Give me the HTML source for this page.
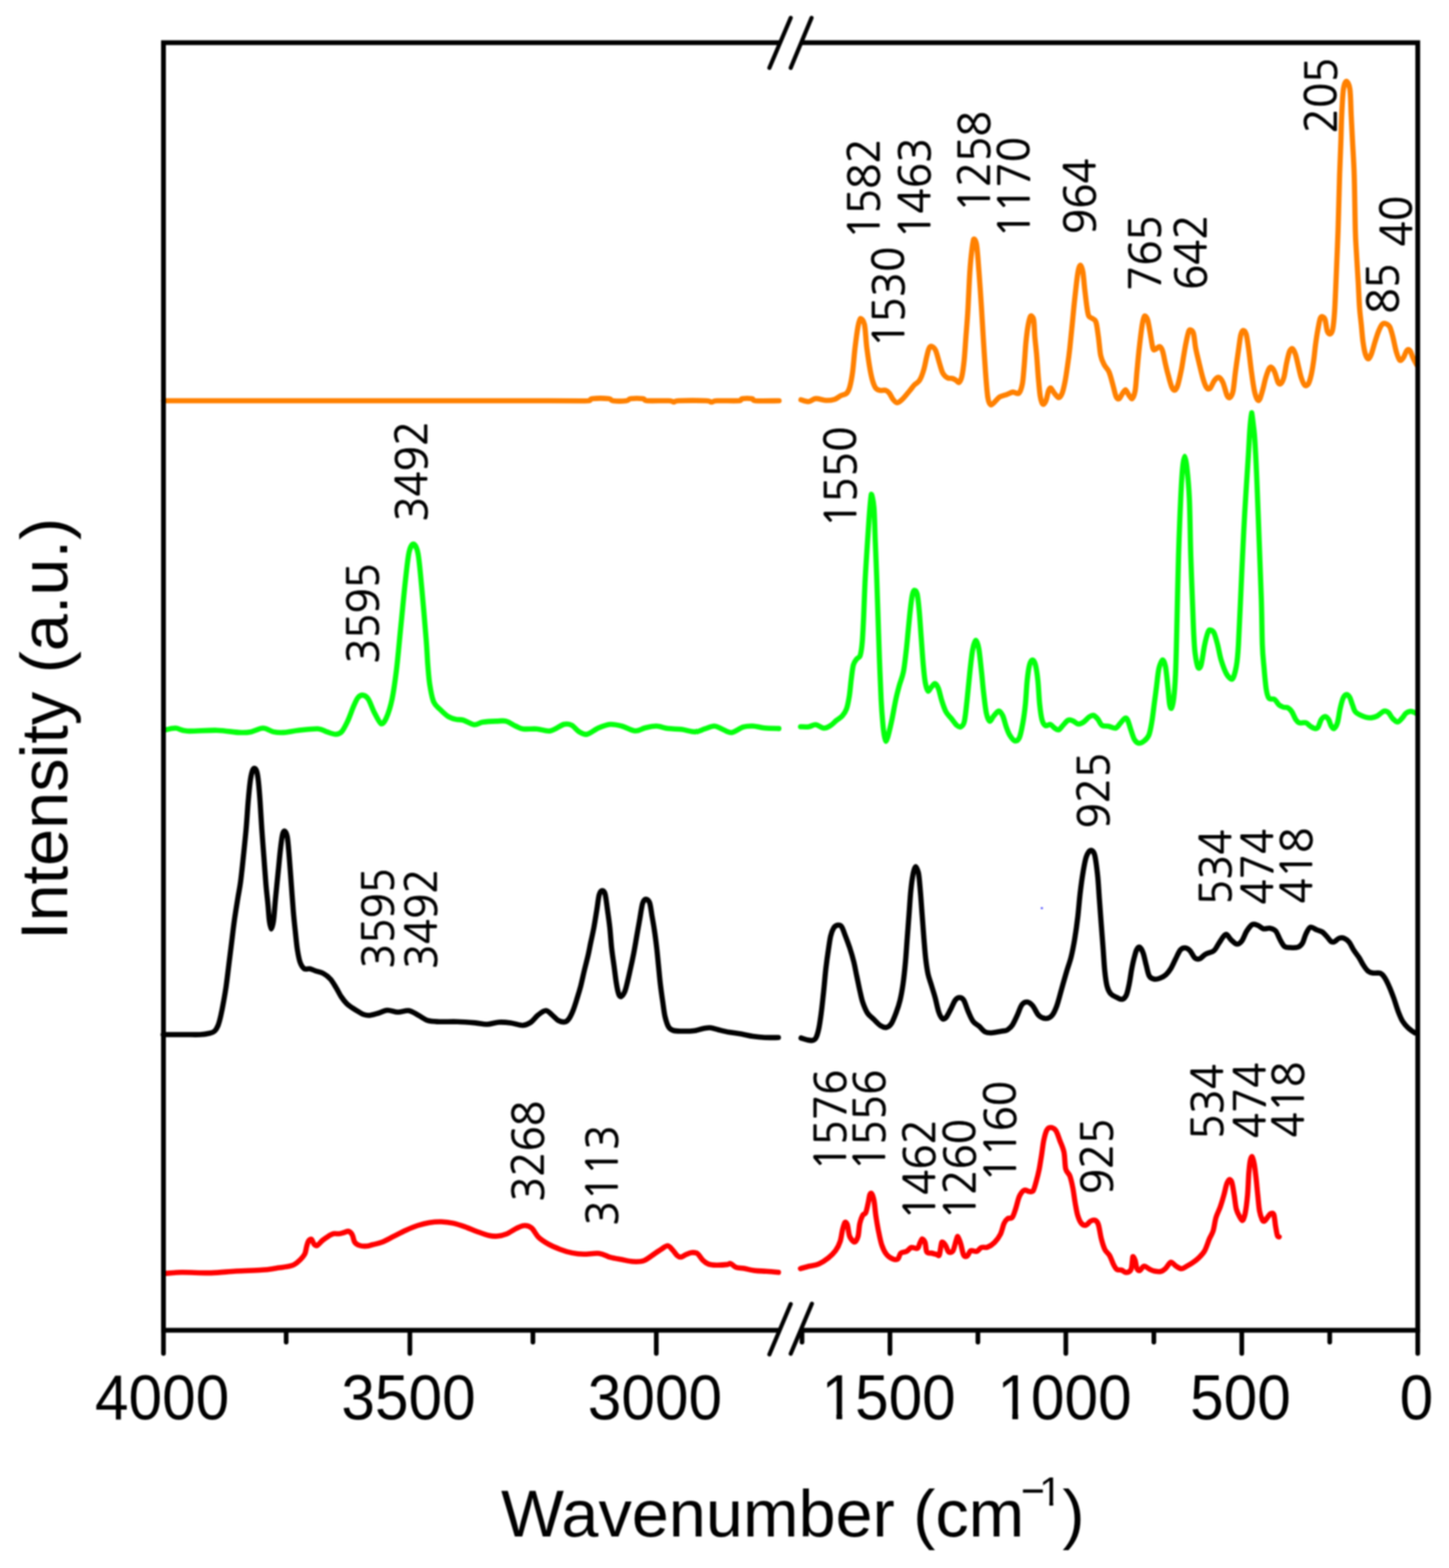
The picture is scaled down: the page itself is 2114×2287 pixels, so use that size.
<!DOCTYPE html>
<html><head><meta charset="utf-8"><title>Raman/IR spectra</title>
<style>html,body{margin:0;padding:0;background:#fff;overflow:hidden;}svg{display:block;filter:blur(0.8px);}</style></head><body>
<svg width="2114" height="2287" viewBox="0 0 2114 2287">
<rect width="2114" height="2287" fill="#fff"/>
<g fill="none" stroke-width="7.6" stroke-linejoin="round" stroke-linecap="round">
<path stroke="#ff8000" d="M238.5,584.5 C332.1,584.5 696.8,584.5 800,584.5 C858,584.5 847.3,585 858,584.5 C864,584 859,582 864,581.5 C869,581 883,581 888,581.5 C893,582 889.7,584 894,584.5 C898.3,585 909.7,585 914,584.5 C918.3,584 916,582 920,581.5 C924,581 934,581 938,581.5 C942,582 938,584 944,584.5 C950.3,585 969.5,584.2 976,584.5 C982.5,584.8 980.7,586.5 983,586.5 C985.3,586.5 983,584.8 990,584.5 C997.8,584.2 1022,584.2 1030,584.5 C1038,584.8 1035.3,586.5 1038,586.5 C1040.7,586.5 1039.3,584.8 1046,584.5 C1052.7,584.2 1071.8,585 1078,584.5 C1083,584 1079.8,582 1083,581.5 C1086.2,581 1093.8,581 1097,581.5 C1100.2,582 1097,584 1102,584.5 C1108.6,585 1130.8,584.5 1136.6,584.5"/>
<path stroke="#ff8000" d="M1168.6,583.1 C1170.5,583.5 1176.2,586 1179.8,585.7 C1183.4,585.4 1185.9,581.7 1190.2,581.4 C1194.5,581.1 1201.2,583.9 1205.8,584 C1210.4,584.1 1214.4,583.4 1217.9,582.3 C1221.4,581.1 1223.7,578.5 1226.6,577.1 C1229.5,575.7 1233,575.6 1235.2,573.6 C1237.4,571.6 1238.1,570.2 1239.6,565 C1241,559.8 1242.6,551.9 1243.9,542.4 C1245.2,532.9 1246.1,518.8 1247.4,507.8 C1248.7,496.8 1250.4,483.8 1251.7,476.6 C1253,469.4 1254.4,464.8 1255.2,464.5 C1256,464.2 1259.6,466 1261.2,473.2 C1262.8,480.4 1263.1,495.7 1264.7,507.8 C1266.3,519.9 1268.7,536.4 1270.7,545.9 C1272.7,555.4 1274.6,561 1276.8,564.9 C1279,568.8 1281.1,568.6 1283.7,569.3 C1286.3,570 1290.1,568.6 1292.4,569.3 C1294.7,570 1295.9,571.4 1297.6,573.6 C1299.3,575.8 1300.9,580 1302.8,582.3 C1304.7,584.6 1306.5,587.5 1308.8,587.5 C1311.1,587.5 1313.6,585.2 1316.6,582.3 C1319.6,579.4 1324.1,573.6 1327,570.1 C1329.9,566.6 1331.5,564.1 1333.9,561.5 C1336.4,558.9 1339.4,558.2 1341.7,554.5 C1344,550.8 1346.1,544.8 1347.8,539 C1349.5,533.2 1350.8,525.1 1352.1,519.9 C1353.4,514.7 1354.3,510.2 1355.6,507.8 C1356.9,505.4 1358.4,504.9 1359.9,505.5 C1361.4,506.1 1363.4,507.4 1365.1,511.3 C1366.8,515.1 1368.6,523.1 1370.3,528.6 C1372,534.1 1373.5,540.5 1375.5,544.2 C1377.5,548 1380.1,549.8 1382.4,551.1 C1384.7,552.4 1387.4,551.4 1389.4,552 C1391.4,552.6 1392.9,553.5 1394.5,554.5 C1396.1,555.5 1397.8,558.6 1398.9,558 C1400,557.4 1401.9,554.9 1403.2,549.4 C1404.5,543.9 1405.7,534.9 1406.7,525.1 C1407.7,515.3 1408.4,502.1 1409.3,490.5 C1410.2,478.9 1411,470.2 1411.9,455.8 C1412.8,441.4 1413.7,417.8 1414.5,403.9 C1415.3,390 1416,381.8 1417,372.7 C1418,363.6 1419.9,350.2 1420.5,349 C1421.1,347.8 1423.5,349.1 1424.8,357.1 C1426.1,365.1 1427.1,382 1428.3,397 C1429.5,412 1430.8,431.6 1431.8,447.2 C1432.8,462.8 1433.4,474.6 1434.4,490.5 C1435.4,506.4 1436.7,527.4 1437.8,542.4 C1438.9,557.4 1440,572.5 1441.3,580.5 C1442.6,588.5 1444.3,589.9 1445.6,590.5 C1446.9,591.1 1449.5,587.7 1451.7,585.7 C1453.9,583.8 1455.8,580.5 1458.7,578.8 C1461.6,577.1 1465.8,576.4 1469,575.3 C1472.2,574.1 1474.8,572.2 1477.7,571.9 C1480.6,571.6 1484.2,575.5 1486.4,573.6 C1488.6,571.7 1490.3,566.3 1491.6,559.7 C1492.9,553.1 1493.3,543.9 1494.2,533.8 C1495.1,523.7 1495.8,509.2 1496.8,499.1 C1497.8,489 1499,479.6 1500.2,473.2 C1501.4,466.8 1503,461.7 1503.7,461 C1504.4,460.3 1507,461.3 1508,466.2 C1509,471.1 1509,482.1 1509.7,490.5 C1510.4,498.9 1511.4,506.4 1512.3,516.5 C1513.2,526.6 1514,541 1514.9,551.1 C1515.8,561.2 1516.6,571.1 1517.5,577.1 C1518.4,583.1 1519.2,585.3 1520.1,587.4 C1521,589.5 1521.9,589.9 1522.7,589.5 C1523.5,589.1 1525,587.2 1526.2,584 C1527.4,580.8 1528.6,573.1 1529.7,570.1 C1530.8,567.1 1532.1,565.6 1533.1,566 C1534.1,566.4 1536.4,571.3 1538.3,573.6 C1540.2,575.9 1542.9,580 1544.4,580 C1545.9,580 1548,577.6 1549.6,573.6 C1551.2,569.6 1552.6,562.9 1553.9,556.3 C1555.2,549.7 1556.2,541.9 1557.4,533.8 C1558.6,525.7 1559.7,517.9 1560.8,507.8 C1561.9,497.7 1563.1,484.8 1564.3,473.2 C1565.5,461.6 1566.5,449.5 1567.7,438.5 C1568.9,427.5 1570.2,415.2 1571.2,407.4 C1572.2,399.6 1572.9,395.2 1573.8,391.8 C1574.7,388.4 1575.9,386.6 1576.4,387 C1576.9,387.4 1578.9,391.3 1579.9,397 C1580.9,402.7 1581.5,412.6 1582.5,421.2 C1583.5,429.8 1584.9,442.3 1585.9,448.9 C1586.9,455.5 1587.2,458.4 1588.5,461 C1589.8,463.6 1592,463.1 1593.7,464.5 C1595.4,465.9 1597.5,465.4 1598.9,469.7 C1600.4,474 1601.2,482.4 1602.4,490.5 C1603.6,498.6 1604.4,511.3 1605.8,518.2 C1607.2,525.1 1609,528 1611,532 C1613,536 1616,537.8 1618,542.4 C1620,547 1621.5,553.6 1623.2,559.7 C1624.9,565.8 1626.8,575.2 1628.4,578.8 C1630,582.4 1631.3,582.2 1632.7,581.5 C1634.1,580.8 1636.3,575.8 1637.9,573.6 C1639.5,571.4 1641.1,568.1 1642.2,568.5 C1643.3,568.9 1645.8,574.9 1647.4,577.1 C1649,579.3 1650.8,582.2 1651.7,581.5 C1652.6,580.8 1654.9,576.6 1656.1,570.1 C1657.3,563.6 1657.7,552.8 1658.7,542.4 C1659.7,532 1660.8,519.3 1662.1,507.8 C1663.4,496.3 1665.2,481 1666.5,473.2 C1667.8,465.4 1669.2,461.7 1669.9,461 C1670.6,460.3 1672.9,462.4 1674.2,466.2 C1675.5,469.9 1676.4,476.6 1677.7,483.5 C1679,490.4 1680.7,503.5 1682,507.8 C1683.3,512.1 1683.9,509.9 1685.5,509.5 C1687.1,509.1 1690,505.2 1691.5,505.5 C1693,505.8 1694.5,507.2 1695.9,511.3 C1697.4,515.4 1698.8,524.2 1700.2,530.3 C1701.6,536.3 1702.9,541.8 1704.5,547.6 C1706.1,553.4 1708.1,561.3 1709.7,564.9 C1711.3,568.5 1713,569.4 1714.1,569 C1715.2,568.6 1716.8,566.5 1718.4,561.5 C1720,556.5 1722.1,546.2 1723.6,539 C1725,531.8 1725.9,524.9 1727.1,518.2 C1728.2,511.6 1729.2,505.1 1730.5,499.1 C1731.8,493.1 1733.5,483.7 1734.8,482 C1736.1,480.3 1739.3,481 1740.9,485.3 C1742.5,489.6 1743,500.3 1744.4,507.8 C1745.9,515.3 1747.9,523.1 1749.6,530.3 C1751.3,537.5 1753.1,545.3 1754.8,551.1 C1756.5,556.9 1758.3,562.3 1760,564.9 C1761.7,567.5 1763.3,568.3 1765.2,566.7 C1767.1,565.1 1769.9,557.2 1772.1,554.5 C1774.3,551.8 1776.4,550 1778.2,550.5 C1780,551 1782.2,553.6 1784.2,558 C1786.2,562.4 1788.6,573.5 1790.3,577.1 C1792,580.7 1793.4,580.5 1794.6,579.5 C1795.8,578.5 1797.7,576.3 1799,570.1 C1800.3,563.9 1801.1,552.2 1802.4,542.4 C1803.7,532.6 1805.5,520.2 1806.8,511.3 C1808.1,502.4 1809,493.6 1810.2,488.7 C1811.4,483.8 1812.8,482.2 1813.7,482 C1814.6,481.8 1816.7,482.7 1818,487 C1819.3,491.3 1820.2,498.6 1821.5,507.8 C1822.8,517 1824.4,532 1825.8,542.4 C1827.2,552.8 1828.6,563.3 1830.1,570.1 C1831.5,576.9 1833.3,581.1 1834.5,583 C1835.7,584.9 1836.6,584.7 1837.9,582.3 C1839.2,579.9 1840.8,573.6 1842.3,568.4 C1843.8,563.2 1845,556.3 1846.6,551.1 C1848.2,545.9 1850.4,539.7 1851.8,537.2 C1853.2,534.7 1853.9,535.2 1855.2,536 C1856.5,536.8 1858,538.7 1859.6,542.4 C1861.2,546.1 1863.2,555.2 1864.8,558 C1866.4,560.8 1867.7,560.4 1869.1,559 C1870.5,557.6 1872.1,554.2 1873.4,549.4 C1874.7,544.6 1875.6,536.4 1876.9,530.3 C1878.2,524.2 1879.8,516.6 1881.2,513 C1882.6,509.4 1884.5,508.1 1885.5,508.5 C1886.5,508.9 1888.5,512.3 1889.9,516.5 C1891.4,520.7 1892.8,528 1894.2,533.8 C1895.6,539.6 1896.9,546.4 1898.5,551.1 C1900.1,555.8 1902.2,560.8 1903.7,562 C1905.2,563.2 1907.3,562.4 1908.9,559.7 C1910.5,557 1911.9,551.7 1913.2,545.9 C1914.5,540.1 1915.7,532.3 1916.7,525.1 C1917.7,517.9 1918.3,510.1 1919.3,502.6 C1920.3,495.1 1921.6,486.5 1922.8,480.1 C1924,473.8 1925,467.5 1926.2,464.5 C1927.4,461.5 1928.7,461.7 1929.7,462 C1930.7,462.3 1932.1,462.6 1933.2,466.2 C1934.3,469.8 1935.3,480 1936.6,483.5 C1937.9,487 1940,487.4 1941,487 C1942,486.6 1943.4,485.3 1944.4,480.1 C1945.4,474.9 1946.3,465.6 1947,455.8 C1947.7,446 1948.1,434.2 1948.7,421.2 C1949.3,408.2 1949.9,392.3 1950.5,377.9 C1951.1,363.5 1951.5,355.1 1952.2,334.6 C1952.9,314.1 1953.7,276.6 1954.4,255 C1955.1,233.4 1955.8,219.6 1956.3,205 C1956.8,190.4 1956.9,180.1 1957.5,167.6 C1958.1,155.1 1958.8,138.2 1960,130 C1961.2,121.8 1963.6,118.5 1964.4,118.5 C1965.2,118.5 1968.2,121.8 1969.4,130 C1970.6,138.2 1970.7,155.1 1971.3,167.6 C1971.9,180.1 1972.5,190.4 1973.2,205 C1973.9,219.6 1975,233.4 1975.7,255 C1976.4,276.6 1976.8,315.6 1977.3,334.6 C1977.8,353.7 1978.3,356.3 1979,369.3 C1979.7,382.3 1980.9,399.6 1981.6,412.6 C1982.3,425.6 1982.7,437.1 1983.4,447.2 C1984.1,457.3 1985.1,464.5 1986,473.2 C1986.9,481.9 1987.6,491.9 1988.6,499.1 C1989.6,506.3 1990.7,512.4 1992,516.5 C1993.3,520.6 1995.5,523.5 1996.4,523.5 C1997.3,523.5 1999.1,520.6 2000.7,516.5 C2002.3,512.4 2004.2,504.6 2005.9,499.1 C2007.6,493.6 2009.4,487.8 2011.1,483.5 C2012.8,479.2 2014.6,475.1 2016.3,473.2 C2018,471.3 2019.6,471.4 2021.5,472 C2023.4,472.6 2025.8,473.5 2027.5,476.6 C2029.2,479.7 2030.3,484.4 2031.9,490.5 C2033.5,496.6 2035.4,507.2 2037.1,513 C2038.8,518.8 2041,524.5 2042.3,525.5 C2043.6,526.5 2045.8,524 2047.5,521.6 C2049.2,519.2 2051,512.7 2052.6,511 C2054.2,509.3 2055.4,509.2 2057,511.3 C2058.6,513.4 2060.5,519.8 2062.2,523.4 C2063.9,527 2066.5,531.3 2067.4,532.9"/>
<path stroke="#04ff0c" d="M238.7,1065.2 C241.6,1064.7 250.2,1061.8 256,1062 C261.8,1062.2 263.2,1065.8 273.3,1066.3 C283.4,1066.8 304,1064.8 316.6,1065.2 C329.2,1065.6 340.7,1068 349,1068.4 C357.3,1068.8 360.6,1068.5 366.4,1067.4 C372.2,1066.3 378.3,1062 383.7,1062 C389.1,1062 393.8,1066.3 398.8,1067.4 C403.9,1068.5 407.9,1068.8 414,1068.4 C420.1,1068 427.3,1066.1 435.6,1065.2 C443.9,1064.3 456.9,1062.6 463.8,1063 C470.7,1063.4 472.5,1066.1 476.8,1067.4 C481.1,1068.7 486.1,1071 489.7,1071 C493.3,1071 495.5,1070.5 498.4,1067.4 C501.3,1064.3 504.2,1058.3 507.1,1052.2 C510,1046.1 513.2,1036.4 515.7,1030.6 C518.2,1024.8 519.9,1020.4 522.2,1017.6 C524.6,1014.8 527.3,1013.6 529.8,1014 C532.3,1014.4 534.7,1015.5 537.4,1019.7 C540.1,1023.9 543,1033.2 546.1,1039.2 C549.2,1045.2 553.7,1054.5 555.8,1055.5 C557.9,1056.5 560.6,1053.9 563.3,1047.9 C566,1041.9 569.5,1031.6 572,1019.7 C574.5,1007.8 576.3,994.5 578.5,976.5 C580.7,958.5 582.8,933.1 585,911.5 C587.2,889.9 589.5,864.4 591.5,846.6 C593.5,828.9 594.9,813.9 596.9,805 C598.9,796.1 602,793.3 603.2,793.5 C604.4,793.7 607.9,797 609.9,807.6 C611.9,818.2 613.3,836.5 615.3,857.4 C617.3,878.3 620.3,914.4 621.8,933.2 C623.3,952 623.3,959.4 624.2,970.3 C625.1,981.2 625.6,989.6 627,998.5 C628.4,1007.4 630.1,1017.7 632.7,1023.8 C635.3,1029.9 639,1031.6 642.5,1035.1 C646,1038.6 650,1042.6 653.8,1044.9 C657.5,1047.2 661.2,1048.2 665,1049.1 C668.8,1050 671.8,1049.2 676.3,1050.5 C680.8,1051.8 687,1056.5 691.7,1057 C696.4,1057.5 699,1054.1 704.4,1053.3 C709.8,1052.5 718.5,1052.1 724.1,1051.9 C729.7,1051.7 733.5,1050.7 738.2,1051.9 C742.9,1053.1 748,1057.1 752.2,1059 C756.4,1060.9 758.3,1062.5 763.5,1063.2 C768.7,1063.9 776.6,1062.7 783.2,1063.2 C789.8,1063.7 796.3,1067.1 802.9,1066 C809.5,1064.9 817.5,1057.9 822.6,1056.5 C827.8,1055.1 830,1055.8 833.8,1057.6 C837.5,1059.4 841.3,1065.2 845.1,1067.4 C848.9,1069.6 851.7,1071.9 856.4,1071 C861.1,1070.1 867.6,1064.2 873.2,1061.8 C878.8,1059.4 884.5,1057 890.1,1056.5 C895.7,1056 900.9,1057.4 907,1059 C913.1,1060.6 921.1,1065.5 926.7,1066 C932.3,1066.5 935.6,1063 940.8,1061.8 C945.9,1060.6 952,1058.9 957.6,1059 C963.2,1059.1 968.4,1061.8 974.5,1062.6 C980.6,1063.4 987.6,1063 994.2,1063.8 C1000.8,1064.6 1008.3,1067.5 1013.9,1067.4 C1019.5,1067.3 1023.3,1064.6 1028,1063.2 C1032.7,1061.8 1037.8,1059 1042,1059 C1046.2,1059 1049.1,1061.6 1053.3,1063.2 C1057.5,1064.8 1062.2,1069 1067.4,1068.5 C1072.6,1068 1079.2,1062 1084.3,1060.4 C1089.4,1058.8 1093.1,1058.8 1098.3,1059 C1103.5,1059.2 1108.9,1061.2 1115.2,1061.8 C1121.5,1062.4 1132.8,1062.5 1136.3,1062.6"/>
<path stroke="#04ff0c" d="M1168,1060 C1170,1060 1176.3,1060.5 1180,1060 C1183.7,1059.5 1186.3,1056.7 1190,1057 C1193.7,1057.3 1198.3,1061.8 1202,1062 C1205.7,1062.2 1209,1059.8 1212,1058 C1215,1056.2 1217.2,1053.3 1220,1051 C1222.8,1048.7 1226.5,1046.8 1229,1044 C1231.5,1041.2 1233.3,1038.7 1235,1034 C1236.7,1029.3 1237.8,1023.3 1239,1016 C1240.2,1008.7 1241,997.7 1242,990 C1243,982.3 1243.7,974.8 1245,970 C1246.3,965.2 1248.3,963.3 1250,961 C1251.7,958.7 1253.7,960.2 1255,956 C1256.3,951.8 1257.2,945.3 1258,936 C1258.8,926.7 1259.3,914.3 1260,900 C1260.7,885.7 1261.2,866.7 1262,850 C1262.8,833.3 1264,815.8 1265,800 C1266,784.2 1267,768.2 1268,755 C1269,741.8 1270.8,721.9 1271.2,721 C1271.6,720.1 1274,728.5 1275,740 C1276,751.5 1276.3,773.3 1277,790 C1277.7,806.7 1278.3,821.7 1279,840 C1279.7,858.3 1280.3,880 1281,900 C1281.7,920 1282.2,940 1283,960 C1283.8,980 1284.7,1004.5 1285.5,1020 C1286.3,1035.5 1287,1044.3 1287.8,1053 C1288.5,1061.7 1289.2,1067.3 1290,1072 C1290.8,1076.7 1292.1,1080.8 1292.5,1081 C1292.9,1081.2 1294.5,1077.2 1295.5,1074 C1296.5,1070.8 1297.5,1066.3 1298.5,1062 C1299.5,1057.7 1300.2,1055 1301.6,1048 C1303,1041 1305.3,1028 1307,1020 C1308.7,1012 1310.2,1006.7 1312,1000 C1313.8,993.3 1316.3,988.3 1318,980 C1319.7,971.7 1320.8,960 1322,950 C1323.2,940 1324,930 1325,920 C1326,910 1327,898.7 1328,890 C1329,881.3 1330,872.8 1331,868 C1332,863.2 1333.3,861.2 1334,861 C1334.7,860.8 1336.8,861.2 1338,866 C1339.2,870.8 1340,879.3 1341,890 C1342,900.7 1343,916.7 1344,930 C1345,943.3 1346,959 1347,970 C1348,981 1348.8,989.7 1350,996 C1351.2,1002.3 1353.1,1007.4 1354,1008 C1354.9,1008.6 1357.3,1003.8 1359,1002 C1360.7,1000.2 1362.7,996.7 1364,997 C1365.3,997.3 1367.3,999.8 1369,1004 C1370.7,1008.2 1372.2,1016.3 1374,1022 C1375.8,1027.7 1377.7,1033.7 1380,1038 C1382.3,1042.3 1385.3,1044.7 1388,1048 C1390.7,1051.3 1393.7,1056 1396,1058 C1398.3,1060 1400.2,1061 1402,1060 C1403.8,1059 1405.5,1058.7 1407,1052 C1408.5,1045.3 1409.7,1032 1411,1020 C1412.3,1008 1413.7,992 1415,980 C1416.3,968 1417.6,955.7 1419,948 C1420.4,940.3 1422.9,934.2 1423.6,934 C1424.3,933.8 1426.6,938.3 1428,946 C1429.4,953.7 1430.8,969.3 1432,980 C1433.2,990.7 1433.8,1000 1435,1010 C1436.2,1020 1437.5,1033 1439,1040 C1440.5,1047 1442.9,1051.6 1444,1052 C1445.1,1052.4 1447.8,1046.5 1450,1044 C1452.2,1041.5 1455.2,1037 1457,1037 C1458.8,1037 1461.2,1040.2 1463,1044 C1464.8,1047.8 1466.3,1055.3 1468,1060 C1469.7,1064.7 1470.9,1068.6 1473,1072 C1475.1,1075.4 1478.2,1079.9 1480.4,1080.5 C1482.6,1081.1 1485.3,1080.2 1487.3,1075.7 C1489.3,1071.2 1491,1061.3 1492.5,1053.2 C1494,1045.1 1495,1037.3 1496,1027.2 C1497,1017.1 1497.6,1002.1 1498.6,992.6 C1499.6,983.1 1500.7,975 1502,970 C1503.3,965 1505.5,962.5 1506.4,962.5 C1507.3,962.5 1509.4,965 1510.7,970 C1512,975 1513.2,983.1 1514.2,992.6 C1515.2,1002.1 1515.8,1017.7 1516.8,1027.2 C1517.8,1036.7 1518.8,1044.5 1520.2,1049.7 C1521.6,1054.9 1523.4,1057.3 1525.4,1058.4 C1527.4,1059.5 1530.1,1056 1532.3,1056.6 C1534.5,1057.2 1536.4,1060.5 1538.4,1061.8 C1540.4,1063.1 1542.5,1065.1 1544.5,1064.5 C1546.5,1063.9 1548.2,1060.7 1550.5,1058.4 C1552.8,1056.1 1555.8,1051.7 1558.3,1050.5 C1560.8,1049.3 1562.8,1050.5 1565.2,1051.4 C1567.7,1052.3 1570.4,1055.7 1573,1056 C1575.6,1056.3 1578,1055 1580.8,1053.2 C1583.5,1051.4 1587,1047 1589.5,1045.4 C1592,1043.8 1593.5,1042.9 1595.5,1043.5 C1597.5,1044.1 1599.6,1046.4 1601.6,1048.8 C1603.6,1051.2 1605.1,1056.3 1607.7,1058 C1610.3,1059.7 1613.9,1058.5 1617.2,1059.2 C1620.5,1059.9 1624.7,1062.7 1627.6,1062 C1630.5,1061.3 1632.3,1057.2 1634.5,1054.9 C1636.7,1052.6 1638.9,1048.9 1640.6,1048 C1642.3,1047.1 1643.3,1046.8 1644.9,1049.7 C1646.5,1052.6 1648.4,1060.4 1650.1,1065.3 C1651.8,1070.2 1653.4,1076 1655.3,1079.1 C1657.2,1082.2 1659,1083.7 1661.3,1084 C1663.6,1084.3 1666.6,1082.9 1669.1,1080.9 C1671.6,1078.9 1674.2,1076.8 1676.1,1072.2 C1678,1067.6 1679.1,1060.7 1680.4,1053.2 C1681.7,1045.7 1682.8,1035.9 1683.9,1027.2 C1685.1,1018.5 1686.2,1009.9 1687.3,1001.2 C1688.4,992.5 1689.3,981.7 1690.8,975.2 C1692.2,968.8 1695.2,962.8 1696,962.5 C1696.8,962.2 1699,965.3 1700.3,971.8 C1701.6,978.2 1702.8,992 1703.8,1001.2 C1704.8,1010.4 1705.5,1021.9 1706.4,1027.2 C1707.3,1032.5 1708.5,1033.7 1709,1033 C1709.5,1032.3 1711.4,1026.7 1712.4,1018.5 C1713.4,1010.3 1714.3,998.8 1715,984 C1715.7,969.2 1715.9,958.8 1716.6,930 C1717.3,901.2 1718.4,844.8 1719.4,811 C1720.4,777.2 1721.6,748.7 1722.6,727 C1723.6,705.3 1724.5,691.2 1725.5,681 C1726.5,670.8 1728,665.5 1728.4,665.5 C1728.8,665.5 1730.4,670.8 1731.5,681 C1732.6,691.2 1734.2,705.3 1735.2,727 C1736.2,748.7 1736.4,783 1737.3,811 C1738.2,839 1739.7,876.3 1740.4,895 C1741.1,913.7 1741,913.4 1741.5,923 C1742,932.6 1742.5,944.3 1743.6,952.7 C1744.7,961.1 1747,971.7 1747.9,973.5 C1748.8,975.3 1750.7,975.5 1752.3,970 C1753.9,964.5 1755.8,948.7 1757.5,940.6 C1759.2,932.5 1761.2,925.2 1762.6,921.6 C1764,918 1764.7,918.7 1766.1,919 C1767.5,919.3 1769.6,919.7 1771.3,923.3 C1773,926.9 1774.8,934 1776.5,940.6 C1778.2,947.2 1779.5,956 1781.7,963.1 C1783.9,970.2 1787,978.9 1789.7,983.5 C1792.4,988.1 1796.4,991.6 1797.9,990.5 C1799.4,989.4 1802,981.3 1803.5,973 C1805,964.7 1805.4,964.1 1806.8,940.6 C1808.2,917.1 1810.3,864.1 1811.8,832 C1813.3,799.9 1814.4,776 1816,748 C1817.6,720 1820,684.3 1821.3,664 C1822.5,643.7 1822.7,636.3 1823.5,626 C1824.3,615.7 1825.8,602.3 1826.1,602 C1826.4,601.7 1827.9,614.2 1828.7,621 C1829.5,627.8 1829.9,628.8 1830.8,643 C1831.7,657.2 1832.9,681.5 1833.9,706 C1835,730.5 1836,762 1837.1,790 C1838.1,818 1839.4,848.9 1840.2,874 C1841,899.1 1841.1,924.1 1841.7,940.6 C1842.3,957.1 1843.1,962.2 1844.1,973 C1845,983.8 1846.2,997.9 1847.4,1005.5 C1848.6,1013.1 1849.4,1016.1 1851.4,1018.5 C1853.4,1020.9 1857.1,1018.5 1859.5,1020.1 C1861.9,1021.7 1863.8,1026.3 1866,1028.2 C1868.2,1030.1 1870.3,1030.8 1872.5,1031.5 C1874.7,1032.2 1877,1031.2 1879,1032.3 C1881,1033.4 1882.8,1035.2 1884.7,1038 C1886.6,1040.8 1888.6,1046.7 1890.4,1049.4 C1892.2,1052.1 1892.9,1053.4 1895.3,1054.2 C1897.7,1055 1902.3,1053.4 1905,1054.2 C1907.7,1055 1909.3,1057.7 1911.5,1059.1 C1913.7,1060.5 1916.1,1062.2 1918,1062.5 C1919.9,1062.8 1921.3,1062.9 1922.9,1060.7 C1924.5,1058.5 1926,1052 1927.7,1049.4 C1929.5,1046.8 1931.7,1045 1933.4,1045 C1935.1,1045 1936.8,1047.1 1938.3,1049.4 C1939.8,1051.8 1940.9,1056.9 1942.3,1059.1 C1943.7,1061.3 1945.2,1063.1 1946.4,1062.5 C1947.6,1061.9 1949.8,1059.1 1951.3,1054.2 C1952.8,1049.3 1953.9,1039 1955.3,1033.1 C1956.7,1027.1 1957.9,1021.9 1959.4,1018.5 C1960.9,1015.1 1962.9,1013.2 1964.3,1013 C1965.7,1012.8 1967.6,1014.4 1969.1,1016.9 C1970.6,1019.4 1971.8,1024.7 1973.2,1028.2 C1974.6,1031.7 1975.3,1035.5 1977.2,1038 C1979.1,1040.5 1981.9,1041.6 1984.5,1042.9 C1987.1,1044.2 1990,1045.4 1992.7,1046.1 C1995.4,1046.8 1998.1,1047.2 2000.8,1046.9 C2003.5,1046.6 2006.5,1045.7 2008.9,1044.5 C2011.3,1043.3 2013.5,1040.8 2015.4,1039.6 C2017.3,1038.3 2018.5,1037 2020.3,1037 C2022,1037 2024,1037.8 2025.9,1039.6 C2027.8,1041.4 2029.4,1045.5 2031.6,1047.7 C2033.8,1049.9 2036.7,1053 2038.9,1053 C2041.1,1053 2043.4,1049.8 2045.4,1047.7 C2047.4,1045.6 2049.1,1042.1 2051.1,1040.4 C2053.1,1038.7 2055.7,1037.8 2057.6,1037.5 C2059.5,1037.2 2060.9,1038.2 2062.5,1038.8 C2064.1,1039.4 2066.5,1040.8 2067.3,1041.2"/>
<path stroke="#000" d="M238,1509 C243.3,1509 261,1509 270,1509 C279,1509 286,1509.3 292,1509 C298,1508.7 302.5,1507.8 306,1507 C309.5,1506.2 311,1505.8 313,1504 C315,1502.2 316.5,1499.7 318,1496 C319.5,1492.3 320.7,1487.7 322,1482 C323.3,1476.3 324.7,1469.3 326,1462 C327.3,1454.7 328.7,1447.3 330,1438 C331.3,1428.7 332.7,1416.7 334,1406 C335.3,1395.3 336.7,1384.7 338,1374 C339.3,1363.3 340.5,1352.7 342,1342 C343.5,1331.3 345.5,1319.3 347,1310 C348.5,1300.7 349.7,1296 351,1286 C352.3,1276 353.7,1262.7 355,1250 C356.3,1237.3 357.8,1223.3 359,1210 C360.2,1196.7 361,1181.7 362,1170 C363,1158.3 364,1147.5 365,1140 C366,1132.5 367,1128.2 368,1125 C369,1121.8 370.3,1120.5 371,1120.5 C371.7,1120.5 373.5,1121.8 374.5,1125 C375.5,1128.2 376.2,1132.5 377,1140 C377.8,1147.5 378.7,1158.3 379.5,1170 C380.3,1181.7 381.1,1196.7 382,1210 C382.9,1223.3 384,1236.7 385,1250 C386,1263.3 387,1278.3 388,1290 C389,1301.7 390.2,1311.2 391,1320 C391.8,1328.8 392.2,1337.2 393,1343 C393.8,1348.8 395.2,1355 395.6,1355 C396,1355 397.9,1350.5 399,1343 C400.1,1335.5 400.8,1322.2 402,1310 C403.2,1297.8 404.8,1281.7 406,1270 C407.2,1258.3 408,1248.7 409,1240 C410,1231.3 411,1222.7 412,1218 C413,1213.3 414.4,1211.8 415,1212 C415.6,1212.2 417.8,1213.7 419,1220 C420.2,1226.3 421,1238.3 422,1250 C423,1261.7 424,1276.7 425,1290 C426,1303.3 427,1318.3 428,1330 C429,1341.7 430,1350.7 431,1360 C432,1369.3 432.8,1378.7 434,1386 C435.2,1393.3 436.3,1399.5 438,1404 C439.7,1408.5 441.7,1411.5 444,1413 C446.3,1414.5 449.3,1412.5 452,1413 C454.7,1413.5 456.7,1414.8 460,1416 C463.3,1417.2 468.3,1418 472,1420 C475.7,1422 479,1424.7 482,1428 C485,1431.3 487.3,1435.7 490,1440 C492.7,1444.3 495.3,1450 498,1454 C500.7,1458 503.3,1461.3 506,1464 C508.7,1466.7 511.3,1468.2 514,1470 C516.7,1471.8 519.3,1473.4 522,1475 C524.7,1476.6 527.2,1478.5 530,1479.5 C532.8,1480.5 535.5,1481.2 539,1481 C542.5,1480.8 546.9,1479.2 551.2,1478 C555.5,1476.8 560.1,1473.8 565,1473.5 C569.9,1473.2 575.4,1476.2 580.6,1476.3 C585.8,1476.4 591.3,1473.3 596.2,1474 C601.1,1474.7 605.4,1478.2 610,1480.6 C614.6,1483 618.7,1486.8 623.9,1488.4 C629.1,1490 634,1489.9 641.2,1490.2 C648.4,1490.5 658.5,1489.9 667.2,1490.2 C675.9,1490.5 686,1491.3 693.2,1491.9 C700.4,1492.5 704.7,1494.2 710.5,1494 C716.3,1493.8 722,1491.3 727.8,1491 C733.6,1490.7 739.3,1491.2 745.1,1491.9 C750.9,1492.7 757.5,1495.7 762.4,1495.5 C767.3,1495.3 770.8,1493.5 774.5,1491 C778.2,1488.5 781.3,1483.4 784.9,1480.6 C788.5,1477.8 792.7,1474 796.2,1474 C799.7,1474 802.7,1478.2 805.7,1480.6 C808.7,1483 811.4,1486.8 814.4,1488.4 C817.4,1490.1 821.3,1490.9 823.9,1490.5 C826.5,1490.1 828,1488.8 830,1486 C832,1483.2 834,1479 836,1474 C838,1469 840.1,1462 842,1456 C843.9,1450 845.5,1444.8 847.3,1438 C849,1431.2 850.8,1422.7 852.5,1415.5 C854.2,1408.3 856.1,1401.6 857.7,1394.7 C859.3,1387.8 860.5,1380.8 862,1373.9 C863.5,1367 864.9,1360.9 866.4,1353.1 C867.9,1345.3 869.4,1335.1 870.7,1327.1 C872,1319.1 872.9,1309.7 874.2,1305 C875.5,1300.3 877.5,1299.1 878.5,1299 C879.5,1298.9 881.5,1299.3 882.8,1304 C884.1,1308.7 885.1,1318.9 886.3,1327.1 C887.4,1335.3 888.7,1343.8 889.7,1353.1 C890.7,1362.3 891.3,1373.4 892.3,1382.6 C893.3,1391.8 894.6,1399.8 895.8,1408.5 C897,1417.2 898.1,1427.6 899.3,1434.5 C900.4,1441.4 901.6,1446.9 902.7,1450.1 C903.9,1453.3 905.1,1454 906.2,1453.5 C907.3,1453 909.8,1450.3 911.4,1446.6 C913,1442.8 914.3,1436.8 915.7,1431 C917.1,1425.2 918.5,1418.6 920,1412 C921.5,1405.4 922.9,1398.7 924.4,1391.2 C925.9,1383.7 927.3,1375.1 928.7,1367 C930.1,1358.9 931.5,1350.9 933,1342.7 C934.5,1334.5 935.9,1323.2 937.4,1318 C938.9,1312.8 940.8,1311.7 942.2,1311.5 C943.6,1311.3 946.2,1312.5 947.7,1316.5 C949.2,1320.5 950,1329.1 951.2,1335.8 C952.4,1342.5 953.6,1348.8 954.7,1356.6 C955.9,1364.4 957.1,1373.9 958.1,1382.6 C959.1,1391.2 959.8,1399.8 960.7,1408.5 C961.6,1417.2 962.3,1425.8 963.3,1434.5 C964.3,1443.2 965.6,1452.4 966.8,1460.5 C968,1468.6 968.8,1476.8 970.3,1483 C971.8,1489.2 973.5,1494.7 975.5,1498 C977.5,1501.3 979.2,1502 982.4,1503 C985.6,1504 989.6,1503.9 994.5,1504 C999.4,1504.1 1006.6,1504.1 1011.8,1503.5 C1017,1502.9 1021.7,1501 1025.7,1500.3 C1029.8,1499.5 1032.3,1498.7 1036.1,1499 C1039.8,1499.3 1043.6,1500.9 1048.2,1502 C1052.8,1503.1 1058.3,1504.5 1063.8,1505.5 C1069.3,1506.5 1075.3,1507.1 1081.1,1508.1 C1086.9,1509.1 1092.6,1510.7 1098.4,1511.6 C1104.2,1512.5 1109.5,1513 1115.7,1513.3 C1121.9,1513.6 1132.3,1513.3 1135.6,1513.3"/>
<path stroke="#000" d="M1168.7,1514 C1170.1,1514.4 1174.6,1516 1177.3,1516.6 C1180,1517.2 1182.9,1517.9 1185.1,1517.5 C1187.3,1517.1 1188.7,1516.9 1190.3,1514 C1191.9,1511.1 1193.3,1506.2 1194.6,1500.1 C1195.9,1494 1196.9,1486.5 1198.1,1477.6 C1199.3,1468.7 1200.4,1457.5 1201.6,1446.5 C1202.8,1435.5 1203.8,1421.9 1205,1411.8 C1206.2,1401.7 1207.3,1393.6 1208.5,1385.8 C1209.7,1378 1210.6,1370.5 1211.9,1365.1 C1213.2,1359.7 1214.7,1356.1 1216.3,1353.5 C1217.9,1350.9 1219.6,1349.9 1221.5,1349.5 C1223.4,1349.1 1225.6,1348.9 1227.5,1351.2 C1229.4,1353.5 1230.7,1358.1 1232.7,1363.3 C1234.7,1368.5 1237.5,1375.8 1239.7,1382.4 C1241.9,1389.1 1244,1396.3 1245.7,1403.2 C1247.4,1410.1 1248.5,1417 1250,1423.9 C1251.5,1430.8 1253,1438.4 1254.4,1444.7 C1255.9,1451 1256.8,1456.5 1258.7,1462 C1260.6,1467.5 1263,1473.5 1265.6,1477.6 C1268.2,1481.6 1271.1,1483.2 1274.3,1486.3 C1277.5,1489.4 1281.5,1494 1284.7,1496 C1287.9,1498 1290.7,1499 1293.3,1498.5 C1295.9,1498 1298,1496.7 1300.3,1493.2 C1302.6,1489.7 1305,1483.4 1307.2,1477.6 C1309.4,1471.8 1311.5,1465.8 1313.2,1458.6 C1314.9,1451.4 1316.3,1443.5 1317.6,1434.3 C1318.9,1425.1 1320,1414.2 1321,1403.2 C1322,1392.2 1322.7,1380 1323.6,1368.5 C1324.5,1357 1325.3,1345.4 1326.2,1333.9 C1327.1,1322.4 1327.8,1309.3 1328.8,1299.3 C1329.8,1289.3 1331.1,1279.9 1332.3,1274 C1333.5,1268.1 1335.2,1264 1335.8,1264 C1336.4,1264 1338.9,1268.1 1340.1,1274 C1341.2,1279.9 1341.8,1289.3 1342.7,1299.3 C1343.6,1309.3 1344.4,1322.4 1345.3,1333.9 C1346.2,1345.4 1347,1357.8 1347.9,1368.5 C1348.8,1379.2 1349.5,1389.3 1350.5,1398 C1351.5,1406.7 1352.5,1413.9 1353.9,1420.5 C1355.3,1427.1 1357.4,1432 1359.1,1437.8 C1360.8,1443.6 1362.6,1448.8 1364.3,1455.1 C1366,1461.4 1367.8,1470.8 1369.5,1475.9 C1371.2,1481 1373,1484.1 1374.7,1485.5 C1376.4,1486.9 1377.9,1486.7 1379.9,1484.5 C1381.9,1482.3 1384.5,1476.7 1386.8,1472.4 C1389.1,1468.1 1391.6,1461.5 1393.8,1458.6 C1396,1455.7 1397.8,1455 1399.8,1455 C1401.8,1455 1403.7,1455.1 1405.9,1458.6 C1408.1,1462.1 1410.5,1470.7 1412.8,1475.9 C1415.1,1481.1 1417.1,1486.2 1419.7,1489.7 C1422.3,1493.2 1425.5,1494.2 1428.4,1496.7 C1431.3,1499.2 1434.2,1503.4 1437.1,1505 C1440,1506.6 1442.8,1506.5 1445.7,1506.5 C1448.6,1506.5 1451.2,1505.8 1454.4,1505.3 C1457.6,1504.8 1462.2,1504.1 1464.8,1503.6 C1467.4,1503 1468,1503.4 1470,1502 C1472,1500.6 1474.7,1498.6 1477,1495.1 C1479.3,1491.6 1481.7,1486.1 1484,1481.1 C1486.3,1476.1 1488.5,1468.6 1491,1465.3 C1493.5,1462 1496.3,1461.2 1498.9,1461.5 C1501.5,1461.8 1504,1463.8 1506.8,1467.1 C1509.6,1470.4 1512.3,1478 1515.5,1481.1 C1518.7,1484.2 1522.8,1485.5 1526,1485.5 C1529.2,1485.5 1532.2,1484.2 1534.8,1481.1 C1537.4,1478 1539.5,1473.5 1541.8,1467.1 C1544.1,1460.7 1546.5,1450.8 1548.8,1442.6 C1551.1,1434.4 1553.5,1426 1555.8,1418.1 C1558.1,1410.2 1560.8,1403.5 1562.8,1395.3 C1564.8,1387.1 1566.4,1378.7 1568,1369.1 C1569.6,1359.5 1571.1,1348.6 1572.4,1337.5 C1573.7,1326.4 1574.6,1313.6 1575.9,1302.5 C1577.2,1291.4 1578.8,1279.8 1580.3,1271 C1581.8,1262.2 1583,1255.1 1584.7,1250 C1586.5,1244.9 1589.3,1240.9 1590.8,1240.5 C1592.3,1240.1 1595.2,1240.5 1596.9,1246.5 C1598.7,1252.5 1600.1,1265.5 1601.3,1276.3 C1602.5,1287.1 1603,1299.6 1603.9,1311.3 C1604.8,1323 1605.6,1334.6 1606.5,1346.3 C1607.4,1358 1608.3,1369.6 1609.2,1381.3 C1610.1,1393 1610.8,1406.7 1611.8,1416.3 C1612.8,1425.9 1613.8,1433.5 1615.3,1439.1 C1616.8,1444.6 1618.2,1447 1620.5,1449.6 C1622.8,1452.2 1626.5,1453.5 1629.3,1454.8 C1632.1,1456.1 1634.9,1458.1 1637.2,1457.5 C1639.5,1456.9 1641.5,1455.2 1643.3,1451.3 C1645,1447.3 1646.4,1440.2 1647.7,1433.8 C1649,1427.4 1650,1418.9 1651.2,1412.8 C1652.4,1406.7 1653.5,1401.6 1654.7,1397.1 C1655.9,1392.5 1656.9,1388.1 1658.2,1385.5 C1659.5,1382.9 1661.4,1380.9 1662.6,1381.5 C1663.8,1382.1 1666.2,1385.8 1667.8,1390.1 C1669.4,1394.4 1670.7,1402.1 1672.2,1407.6 C1673.7,1413.1 1674.7,1419.9 1676.6,1423.3 C1678.5,1426.7 1681,1427.4 1683.6,1428 C1686.2,1428.6 1689.4,1427.9 1692.3,1426.8 C1695.2,1425.7 1698.5,1423.9 1701.1,1421.6 C1703.7,1419.3 1705.8,1416.6 1708.1,1412.8 C1710.4,1409 1712.8,1403.3 1715.1,1398.8 C1717.4,1394.2 1719.8,1388.2 1722.1,1385.5 C1724.4,1382.8 1726.8,1382.3 1729.1,1382.5 C1731.4,1382.7 1733.8,1384.2 1736.1,1386.6 C1738.4,1389 1740.8,1395.1 1743.1,1397.1 C1745.4,1399.1 1747.5,1399.4 1750.1,1398.5 C1752.7,1397.6 1755.3,1393.8 1758.8,1391.8 C1762.3,1389.8 1767.9,1389.2 1771.1,1386.6 C1774.3,1384 1775.8,1379.5 1778.1,1376.1 C1780.4,1372.7 1783,1368.2 1784.9,1366 C1786.8,1363.8 1788,1362.3 1789.7,1363 C1791.4,1363.7 1793.8,1368.6 1796.2,1370.9 C1798.7,1373.2 1801.8,1376.7 1804.4,1377 C1807,1377.3 1809.3,1375.7 1811.7,1372.5 C1814.1,1369.3 1816.4,1361.9 1819,1357.9 C1821.6,1353.9 1824.4,1349.8 1827.1,1348.5 C1829.8,1347.2 1832.5,1348.8 1835.2,1349.8 C1837.9,1350.8 1840.3,1354 1843.3,1354.7 C1846.3,1355.4 1850.1,1353.4 1853.1,1353.9 C1856.1,1354.4 1858.8,1355.1 1861.2,1357.9 C1863.6,1360.7 1865.5,1367.1 1867.7,1370.9 C1869.9,1374.7 1871.8,1378.8 1874.2,1380.6 C1876.6,1382.4 1879.1,1381.8 1882.3,1382 C1885.5,1382.2 1890.6,1382.5 1893.6,1381.5 C1896.6,1380.5 1898.2,1378.9 1900.1,1375.8 C1902,1372.7 1903.1,1366.7 1905,1362.8 C1906.9,1358.9 1909,1353.5 1911.5,1352.5 C1914,1351.5 1918.2,1355.1 1921.2,1356.3 C1924.2,1357.5 1927,1357.9 1929.4,1359.5 C1931.8,1361.1 1933.7,1363.7 1935.8,1366 C1937.9,1368.3 1940.4,1372.3 1942.3,1373.5 C1944.2,1374.7 1945.3,1374.1 1947.2,1373.3 C1949.1,1372.5 1951.4,1369.3 1953.7,1368.5 C1956,1367.7 1958.6,1367.5 1961,1368.5 C1963.4,1369.5 1966,1371.4 1968.3,1374.2 C1970.6,1377 1972.4,1381.7 1974.8,1385.5 C1977.2,1389.3 1980.5,1393.1 1982.9,1396.9 C1985.3,1400.7 1987.2,1405 1989.4,1408.2 C1991.6,1411.5 1993.6,1414.6 1995.9,1416.4 C1998.2,1418.2 2000.2,1418.7 2003.2,1419.2 C2006.2,1419.7 2011,1418.4 2013.8,1419.6 C2016.6,1420.8 2018.1,1422.8 2020.3,1426.1 C2022.5,1429.3 2024.6,1434.2 2026.8,1439.1 C2029,1444 2031,1449.3 2033.2,1455.3 C2035.4,1461.2 2037.5,1469.1 2039.7,1474.8 C2041.9,1480.5 2043.8,1485.3 2046.2,1489.4 C2048.7,1493.5 2051.4,1496.4 2054.4,1499.2 C2057.4,1502 2062.5,1505.3 2064.1,1506.5"/>
<path stroke="#ff0000" d="M239.5,1857.5 C243.7,1857.2 253.2,1856 264.6,1855.8 C276,1855.6 294.6,1856.9 307.9,1856.6 C321.2,1856.3 331.9,1854.7 344.3,1854 C356.7,1853.3 372.6,1853 382.4,1852.3 C392.2,1851.6 396.8,1850.6 403.2,1849.7 C409.6,1848.8 416.2,1848 420.5,1847.1 C424.8,1846.2 426.2,1846.1 429.1,1844.5 C432,1842.9 435.2,1840.2 437.8,1837.6 C440.4,1835 443.1,1832.1 444.7,1828.9 C446.3,1825.7 446.4,1821.6 447.3,1818.5 C448.2,1815.4 448.8,1812.3 449.9,1810.5 C451,1808.7 453,1806.9 454.2,1807.5 C455.4,1808.1 457.2,1813.6 458.6,1815.1 C460.1,1816.6 460.9,1817.5 462.9,1816.5 C464.9,1815.5 467.9,1811.3 470.7,1809 C473.4,1806.7 476.8,1804.5 479.4,1802.9 C482,1801.3 483.7,1800.1 486.3,1799.5 C488.9,1798.9 492.3,1799.8 494.9,1799.5 C497.5,1799.2 499.6,1798.3 501.9,1797.7 C504.2,1797.1 506.8,1795.4 508.8,1796 C510.8,1796.6 512.6,1798.6 514,1801.2 C515.4,1803.8 515.7,1809 517.4,1811.6 C519.1,1814.1 521.5,1815.5 524.4,1816.5 C527.3,1817.5 531.6,1817.7 534.8,1817.5 C538,1817.3 539.6,1816.5 543.4,1815.5 C547.1,1814.5 552.1,1813.9 557.3,1811.8 C562.5,1809.7 568.8,1806 574.6,1803.1 C580.4,1800.2 586.2,1797.1 592,1794.5 C597.8,1791.9 603.5,1789.4 609.3,1787.5 C615.1,1785.6 620.8,1784.1 626.6,1783.2 C632.4,1782.3 638.1,1781.8 643.9,1782 C649.7,1782.2 655.4,1782.9 661.2,1784.1 C667,1785.3 672.7,1787.3 678.5,1789.3 C684.3,1791.3 690,1794.1 695.8,1796.2 C701.6,1798.3 708.3,1800.9 713.2,1802 C718.1,1803.1 721,1803.4 725.3,1803 C729.6,1802.6 734.5,1801.5 739.1,1799.7 C743.7,1797.9 748.7,1793.9 753,1791.9 C757.3,1789.9 761.4,1787.7 765.1,1787.5 C768.9,1787.3 772,1788.1 775.5,1791 C779,1793.9 781.9,1800.9 785.9,1804.8 C789.9,1808.7 794.5,1811.5 799.7,1814.4 C804.9,1817.3 811.3,1820 817.1,1822.2 C822.9,1824.4 828.6,1826.2 834.4,1827.4 C840.2,1828.6 845,1829.2 851.7,1829.3 C858.4,1829.4 867.9,1827.4 874.4,1828.2 C880.9,1829 885.2,1832.4 890.6,1833.9 C896,1835.4 901.4,1836.1 906.8,1837.1 C912.2,1838.1 917.7,1839.7 923.1,1840 C928.5,1840.3 933.9,1840.7 939.3,1838.7 C944.7,1836.7 951.2,1831 955.5,1828.2 C959.8,1825.4 962.2,1823.6 965.3,1821.7 C968.4,1819.8 971.5,1816.7 974.2,1817 C976.9,1817.3 979.2,1820.9 981.5,1823.3 C983.8,1825.7 986,1829.7 988,1831.4 C990,1833.1 991.5,1833.8 993.7,1833.5 C995.9,1833.2 998.4,1830.9 1001,1829.8 C1003.6,1828.7 1006.4,1827.3 1009.1,1827 C1011.8,1826.7 1014.5,1826.4 1017.2,1828.2 C1019.9,1830 1022.6,1835.3 1025.3,1837.9 C1028,1840.5 1030.2,1842.4 1033.4,1843.6 C1036.7,1844.8 1040.2,1845.1 1044.8,1845.2 C1049.4,1845.3 1057.5,1844.8 1061,1844.4 C1064.5,1844 1063.7,1842.3 1065.9,1843 C1068.1,1843.7 1070.8,1847.3 1074,1848.5 C1077.2,1849.7 1080.8,1849.3 1085.4,1850.1 C1090,1850.9 1096.2,1852.6 1101.6,1853.3 C1107,1854 1112.2,1853.8 1117.9,1854.2 C1123.6,1854.6 1132.7,1855.5 1135.7,1855.8"/>
<path stroke="#ff0000" d="M1167.8,1850.3 C1170,1849.7 1176.3,1847.9 1180.8,1846.8 C1185.3,1845.7 1190,1845.4 1194.6,1843.4 C1199.2,1841.4 1204.5,1837.9 1208.5,1834.7 C1212.5,1831.5 1216,1828.3 1218.9,1824.3 C1221.8,1820.3 1224.1,1815.7 1225.8,1810.5 C1227.5,1805.3 1228.1,1797.8 1229.3,1793.2 C1230.5,1788.6 1232,1783.8 1232.7,1783 C1233.4,1782.2 1235,1782.8 1236.2,1786.2 C1237.4,1789.6 1238,1799.3 1239.7,1803.5 C1241.4,1807.7 1245.2,1811.5 1246.6,1811.5 C1248,1811.5 1250.5,1808 1251.8,1803.5 C1253.1,1799 1253.2,1789.7 1254.4,1784.5 C1255.6,1779.3 1257.3,1775 1258.7,1772.4 C1260.1,1769.8 1261.7,1771.8 1263,1768.9 C1264.3,1766 1265.5,1759.5 1266.5,1755.1 C1267.5,1750.7 1268.2,1744.8 1269.1,1742.5 C1270,1740.2 1270.9,1739.9 1271.7,1741 C1272.5,1742.1 1274.2,1746.4 1275.2,1751.6 C1276.2,1756.8 1276.7,1765.5 1277.7,1772.4 C1278.7,1779.3 1279.8,1786 1281.2,1793.2 C1282.7,1800.4 1284.4,1809.7 1286.4,1815.7 C1288.4,1821.8 1290.7,1826.1 1293.3,1829.5 C1295.9,1832.9 1299.2,1834.8 1302,1836 C1304.8,1837.2 1307.8,1837.9 1309.8,1836.5 C1311.8,1835.1 1311.9,1829.7 1314.1,1827.8 C1316.3,1825.9 1320.2,1826.6 1322.8,1825.2 C1325.4,1823.8 1327.1,1820.2 1329.7,1819.5 C1332.3,1818.8 1336.4,1821.8 1338.4,1820.9 C1340.4,1820 1340.7,1816.2 1341.8,1813.9 C1342.9,1811.6 1344.5,1807.2 1345.3,1807 C1346.1,1806.8 1348.4,1809 1349.6,1812.2 C1350.8,1815.4 1350.6,1823.5 1352.2,1826.1 C1353.8,1828.7 1356.8,1827.2 1359.1,1827.8 C1361.4,1828.4 1364.2,1829 1366.1,1829.5 C1368,1830 1369.3,1832.9 1370.4,1830.5 C1371.5,1828.1 1373,1813.6 1373.9,1812 C1374.8,1810.4 1377.3,1813.4 1379,1815.7 C1380.7,1818 1382.4,1824.8 1384.2,1826.1 C1386,1827.4 1388.6,1826.9 1390.3,1824.3 C1392,1821.7 1393.4,1814 1394.6,1810.5 C1395.8,1807 1396.6,1803.2 1397.2,1803.5 C1397.8,1803.8 1400.1,1809.4 1401.6,1813.9 C1403,1818.4 1404.3,1827.5 1405.9,1830.5 C1407.5,1833.5 1409.4,1833 1411.1,1832 C1412.8,1831 1414,1825.4 1416.3,1824.3 C1418.6,1823.2 1422.3,1826 1424.9,1825.2 C1427.5,1824.4 1429.3,1820.5 1431.9,1819.5 C1434.5,1818.5 1437.3,1820.3 1440.5,1819.1 C1443.7,1817.9 1447.7,1815.4 1450.9,1812.2 C1454.1,1809 1457.3,1804.7 1459.6,1800.1 C1461.9,1795.5 1463.1,1788.3 1464.8,1784.5 C1466.5,1780.7 1468,1779 1470,1777.5 C1472,1776 1474.9,1778.1 1476.9,1775.5 C1478.9,1772.9 1480.4,1767.1 1482.1,1762 C1483.8,1756.9 1485.3,1749 1487.3,1744.7 C1489.3,1740.4 1491.9,1737.2 1494.2,1736 C1496.5,1734.8 1499,1737.5 1501.2,1737.7 C1503.4,1737.9 1505.5,1739.2 1507.2,1736.9 C1508.9,1734.6 1510.1,1729 1511.6,1723.9 C1513,1718.9 1514.6,1712.9 1515.9,1706.6 C1517.2,1700.2 1518.2,1693 1519.4,1685.8 C1520.6,1678.6 1521.5,1669.5 1522.8,1663.3 C1524.1,1657.1 1525.5,1651.6 1527.1,1648.5 C1528.7,1645.4 1530.1,1644.5 1532.3,1644.5 C1534.5,1644.5 1537.8,1645.4 1540.1,1648.5 C1542.4,1651.6 1544.2,1658 1546.2,1663.3 C1548.2,1668.6 1550.9,1673.7 1552.3,1680.6 C1553.7,1687.5 1553.4,1699 1554.8,1704.8 C1556.2,1710.6 1559.2,1710.6 1560.9,1715.2 C1562.6,1719.8 1563.9,1725.9 1565.2,1732.6 C1566.5,1739.2 1567.5,1748.5 1568.7,1755.1 C1569.9,1761.7 1570.8,1767.6 1572.2,1772.4 C1573.7,1777.2 1575.4,1781.6 1577.4,1784 C1579.4,1786.4 1582,1787.5 1584.3,1787 C1586.6,1786.5 1588.9,1782.2 1591.2,1781 C1593.5,1779.8 1596.2,1779.1 1598.1,1780 C1600,1780.9 1601,1781.7 1602.5,1786.2 C1604,1790.7 1605.2,1800.9 1606.8,1807 C1608.4,1813.1 1610,1818.5 1612,1822.6 C1614,1826.6 1616.9,1827.8 1618.9,1831.3 C1620.9,1834.8 1622.4,1840 1624.1,1843.4 C1625.8,1846.8 1627.3,1850 1629.3,1851.5 C1631.3,1853 1633.9,1851.8 1636.2,1852.5 C1638.5,1853.2 1640.9,1856.2 1643.2,1856 C1645.5,1855.8 1648.5,1855.3 1650.1,1851.5 C1651.7,1847.7 1652.2,1834 1652.7,1833 C1653.2,1832 1655.1,1835.4 1656.1,1838.2 C1657.1,1841 1657.5,1847.5 1658.7,1850 C1659.9,1852.5 1661.5,1853.5 1663.1,1853 C1664.7,1852.5 1666.7,1847 1669.1,1846.8 C1671.5,1846.6 1675.2,1850.3 1677.8,1851.5 C1680.4,1852.7 1682.1,1853.5 1684.7,1854 C1687.3,1854.5 1690.8,1855.1 1693.4,1854.5 C1696,1853.9 1697.8,1852.5 1700.3,1850.3 C1702.8,1848 1705.8,1841.5 1708.1,1841 C1710.4,1840.5 1713.3,1845.2 1715.9,1846.8 C1718.5,1848.4 1721.1,1850.5 1723.7,1850.5 C1726.3,1850.5 1728.8,1848.3 1731.5,1846.8 C1734.2,1845.3 1737.2,1843.6 1740.1,1841.6 C1743,1839.6 1745.9,1837.6 1748.8,1834.7 C1751.7,1831.8 1754.9,1828.9 1757.5,1824.3 C1760.1,1819.7 1762.3,1811.9 1764.4,1807 C1766.5,1802.1 1768.4,1800.2 1770,1795 C1771.6,1789.8 1772.3,1781.8 1774,1776 C1775.7,1770.2 1778.5,1765.5 1780.4,1760 C1782.3,1754.5 1784.1,1748.4 1785.6,1743 C1787.1,1737.6 1788.2,1731.2 1789.5,1727.4 C1790.8,1723.7 1792.5,1720.8 1793.4,1720.5 C1794.3,1720.2 1796.1,1721 1797.3,1724.8 C1798.5,1728.5 1799.5,1736.5 1800.6,1743 C1801.7,1749.5 1802.4,1758.4 1803.8,1763.8 C1805.2,1769.2 1807.5,1772.8 1809,1775.5 C1810.5,1778.2 1812.1,1780.7 1812.9,1780 C1813.7,1779.3 1815.6,1775.2 1816.8,1769 C1818,1762.8 1819.2,1752.8 1820.1,1743 C1821,1733.2 1821.3,1718.8 1822,1710.5 C1822.7,1702.2 1823.2,1696.9 1824,1693 C1824.8,1689.1 1826.1,1686.6 1826.6,1687 C1827.1,1687.4 1828.8,1692.5 1829.8,1697.5 C1830.8,1702.5 1831.5,1709.4 1832.4,1717 C1833.3,1724.6 1834.1,1734.8 1835,1743 C1835.9,1751.2 1836.5,1760.4 1837.6,1766.4 C1838.7,1772.4 1840.3,1776.6 1841.5,1779 C1842.7,1781.4 1843.6,1781.5 1844.8,1781 C1846,1780.5 1847.8,1777.3 1849.3,1775.5 C1850.8,1773.7 1852.4,1770.6 1853.9,1770 C1855.4,1769.4 1857.2,1768.6 1858.4,1771.7 C1859.6,1774.8 1860.1,1783.5 1861,1788.6 C1861.9,1793.6 1862.7,1799.4 1863.6,1802 C1864.5,1804.6 1865.8,1803.7 1866.2,1804"/>
</g>
<circle cx="1520" cy="1324.5" r="1.6" fill="#4040ff"/>
<g stroke="#000" stroke-width="7.0" fill="none" stroke-linecap="butt" stroke-linejoin="miter">
<path d="M1137.5,62.2 L238.5,62.2 L238.5,1940.3 L1137.5,1940.3"/>
<path d="M1168.5,62.2 L2068.4,62.2 L2068.4,1940.3 L1168.5,1940.3"/>
</g>
<g stroke="#000" stroke-width="6" stroke-linecap="round">
<line x1="1122.5" y1="99" x2="1153.6" y2="26"/>
<line x1="1153.6" y1="99" x2="1184" y2="26"/>
<line x1="1122.5" y1="1975.5" x2="1153.6" y2="1902"/>
<line x1="1153.6" y1="1974.5" x2="1184.5" y2="1901.5"/>
</g>
<g stroke="#000" stroke-width="6.8" stroke-linecap="round">
<line x1="238.5" y1="1940.3" x2="238.5" y2="1974"/>
<line x1="598" y1="1940.3" x2="598" y2="1974"/>
<line x1="957.5" y1="1940.3" x2="957.5" y2="1974"/>
<line x1="1298.4" y1="1940.3" x2="1298.4" y2="1974"/>
<line x1="1555" y1="1940.3" x2="1555" y2="1974"/>
<line x1="1811.7" y1="1940.3" x2="1811.7" y2="1974"/>
<line x1="2068.4" y1="1940.3" x2="2068.4" y2="1974"/>
<line x1="417.5" y1="1940.3" x2="417.5" y2="1957.5"/>
<line x1="777.5" y1="1940.3" x2="777.5" y2="1957.5"/>
<line x1="1170.1" y1="1940.3" x2="1170.1" y2="1957.5"/>
<line x1="1426.7" y1="1940.3" x2="1426.7" y2="1957.5"/>
<line x1="1683.4" y1="1940.3" x2="1683.4" y2="1957.5"/>
<line x1="1940" y1="1940.3" x2="1940" y2="1957.5"/>
</g>
<g font-family="Liberation Sans, Arial, sans-serif" font-size="92.5" fill="#000" text-anchor="middle">
<text transform="translate(236.5,2069.5) scale(0.952,1)">4000</text>
<text transform="translate(596,2069.5) scale(0.952,1)">3500</text>
<text transform="translate(955.5,2069.5) scale(0.952,1)">3000</text>
<text transform="translate(1296.4,2069.5) scale(0.952,1)">1500</text>
<text transform="translate(1553,2069.5) scale(0.952,1)">1000</text>
<text transform="translate(1809.7,2069.5) scale(0.952,1)">500</text>
<text transform="translate(2066.4,2069.5) scale(0.952,1)">0</text>
</g>
<g font-family="Liberation Sans, Arial, sans-serif" fill="#000">
<text x="731" y="2241" font-size="97.2">Wavenumber (cm</text>
<text x="1490" y="2194" font-size="58" stroke="#000" stroke-width="0.8">−</text>
<text x="1516" y="2195.5" font-size="60">1</text>
<text x="1550" y="2241" font-size="97.2">)</text>
<text transform="translate(98.4,1371) rotate(-90)" font-size="97.2">Intensity (a.u.)</text>
</g>
<g fill="#fff">
<rect x="1203.7" y="2061.4" width="16.6" height="9.6"/>
<rect x="1228.7" y="2061.4" width="15.5" height="9.6"/>
<rect x="1460.3" y="2061.4" width="16.6" height="9.6"/>
<rect x="1485.3" y="2061.4" width="15.5" height="9.6"/>
<rect x="1519.6" y="2190.2" width="11.3" height="6.8"/>
<rect x="1536.6" y="2190.2" width="10.6" height="6.8"/>
</g>
<g font-family="NanumGothic, 'Liberation Sans', sans-serif" font-size="63.8" fill="#000" stroke="#000" stroke-width="1.0" text-anchor="middle">
<text transform="translate(1283.2,275.4) rotate(-90) scale(0.952,1)">1582</text>
<text transform="translate(1357.2,274.6) rotate(-90) scale(0.952,1)">1463</text>
<text transform="translate(1318.8,433.5) rotate(-90) scale(0.952,1)">1530</text>
<text transform="translate(1444.2,235.9) rotate(-90) scale(0.952,1)">1258</text>
<text transform="translate(1501.7,273.5) rotate(-90) scale(0.952,1)">1170</text>
<text transform="translate(1598.2,286.2) rotate(-90) scale(0.952,1)">964</text>
<text transform="translate(1693.3,369.1) rotate(-90) scale(0.952,1)">765</text>
<text transform="translate(1759.7,367.9) rotate(-90) scale(0.952,1)">642</text>
<text transform="translate(1949.5,139.2) rotate(-90) scale(0.952,1)">205</text>
<text transform="translate(2040.2,420.8) rotate(-90) scale(0.952,1)">85</text>
<text transform="translate(2060.2,322.6) rotate(-90) scale(0.952,1)">40</text>
<text transform="translate(551.5,894.7) rotate(-90) scale(0.952,1)">3595</text>
<text transform="translate(623.3,687.4) rotate(-90) scale(0.952,1)">3492</text>
<text transform="translate(1248.7,695.9) rotate(-90) scale(0.952,1)">1550</text>
<text transform="translate(574.2,1339.5) rotate(-90) scale(0.952,1)">3595</text>
<text transform="translate(637,1340.2) rotate(-90) scale(0.952,1)">3492</text>
<text transform="translate(1617.6,1153) rotate(-90) scale(0.952,1)">925</text>
<text transform="translate(1796.2,1264.9) rotate(-90) scale(0.952,1)">534</text>
<text transform="translate(1857.4,1264) rotate(-90) scale(0.952,1)">474</text>
<text transform="translate(1914.2,1262.5) rotate(-90) scale(0.952,1)">418</text>
<text transform="translate(792.9,1679.4) rotate(-90) scale(0.952,1)">3268</text>
<text transform="translate(901,1714.4) rotate(-90) scale(0.952,1)">3113</text>
<text transform="translate(1234.2,1633.8) rotate(-90) scale(0.952,1)">1576</text>
<text transform="translate(1291.3,1633.8) rotate(-90) scale(0.952,1)">1556</text>
<text transform="translate(1363.7,1705.9) rotate(-90) scale(0.952,1)">1462</text>
<text transform="translate(1422.5,1705.7) rotate(-90) scale(0.952,1)">1260</text>
<text transform="translate(1482.2,1650.3) rotate(-90) scale(0.952,1)">1160</text>
<text transform="translate(1622.9,1686.6) rotate(-90) scale(0.952,1)">925</text>
<text transform="translate(1784.2,1606.9) rotate(-90) scale(0.952,1)">534</text>
<text transform="translate(1845.8,1604.9) rotate(-90) scale(0.952,1)">474</text>
<text transform="translate(1901.6,1603.9) rotate(-90) scale(0.952,1)">418</text>
</g>
</svg></body></html>
